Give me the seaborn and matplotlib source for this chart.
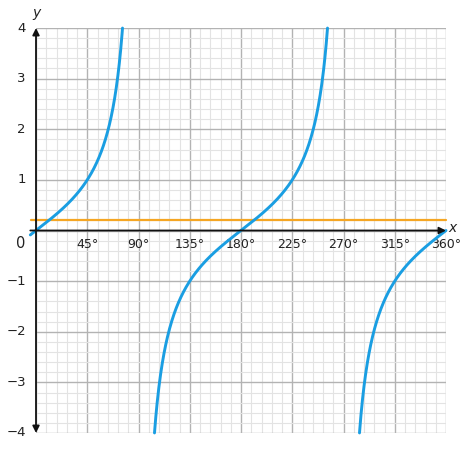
import numpy as np
import pandas as pd
import matplotlib
matplotlib.use("Agg")
import matplotlib.pyplot as plt
import seaborn as sns

# ---- data ----
x_major = [0, 45, 90, 135, 180, 225, 270, 315, 360]
x_labels = ["", "45°", "90°", "135°", "180°", "225°", "270°", "315°", "360°"]
y_major = [-4, -3, -2, -1, 0, 1, 2, 3, 4]
y_labels = ["−4", "−3", "−2", "−1", "", "1", "2", "3", "4"]
branch_starts = [-5.0, 104.04, 284.04]   # degrees, where |tan x| <= 4
branch_ends = [75.96, 255.96, 360.0]
h_line_value = 0.2
h_line_x = [-4.0, 360.0]

rows = []
for b, (a, e) in enumerate(zip(branch_starts, branch_ends)):
    xs = np.linspace(a, e, 400)
    for xv in xs:
        rows.append({"branch": b, "x": xv, "y": np.tan(np.radians(xv))})
curve = pd.DataFrame(rows)
hline = pd.DataFrame({"x": h_line_x, "y": [h_line_value] * len(h_line_x)})

sns.set_theme(style="white")
plt.rcParams["font.family"] = ["DejaVu Sans"]

fig = plt.figure(figsize=(4.74, 4.5), dpi=100)
ax = fig.add_axes([36 / 474, 17 / 450, 410 / 474, 405 / 450])
ax.set_xlim(0, 360)
ax.set_ylim(-4, 4)

# grid
ax.set_xticks(x_major)
ax.set_yticks(y_major)
ax.set_xticks(np.arange(0, 361, 9), minor=True)
ax.set_yticks(np.arange(-4, 4.01, 0.2), minor=True)
ax.grid(which="minor", color="#e3e3e3", linewidth=0.8)
ax.grid(which="major", color="#b3b3b3", linewidth=1.0)
ax.tick_params(which="both", length=0, labelbottom=False, labelleft=False)
for s in ax.spines.values():
    s.set_visible(False)
ax.set_axisbelow(True)

sns.lineplot(data=hline, x="x", y="y", color="#f5a623", linewidth=1.6, ax=ax,
             clip_on=False, zorder=3)
sns.lineplot(data=curve, x="x", y="y", units="branch", estimator=None,
             color="#1a9ee2", linewidth=2.1, ax=ax, clip_on=False, zorder=4, sort=False)
ax.set_xlabel("")
ax.set_ylabel("")

# axes with arrows
ax.annotate("", xy=(360, 0), xytext=(-5, 0),
            arrowprops=dict(arrowstyle="-|>", color="#111", lw=1.3, mutation_scale=10,
                            shrinkA=0, shrinkB=0), annotation_clip=False, zorder=5)
ax.annotate("", xy=(0, 4), xytext=(0, -4),
            arrowprops=dict(arrowstyle="<|-|>", color="#111", lw=1.3, mutation_scale=10,
                            shrinkA=0, shrinkB=0), annotation_clip=False, zorder=5)

# tick labels
for xv, lab in zip(x_major, x_labels):
    if lab:
        ax.text(xv, -0.27, lab, ha="center", va="center", fontsize=9, color="#222")
for yv, lab in zip(y_major, y_labels):
    if lab:
        ax.text(-9, yv, lab, ha="right", va="center", fontsize=9.5, color="#222")
ax.text(-13.5, -0.26, "0", ha="center", va="center", fontsize=10.5, color="#222")
ax.text(0.5, 4.3, "y", ha="center", va="center", fontsize=10, style="italic", color="#222")
ax.text(366, 0.04, "x", ha="center", va="center", fontsize=10, style="italic", color="#222")

fig.savefig("out.png", dpi=100)
